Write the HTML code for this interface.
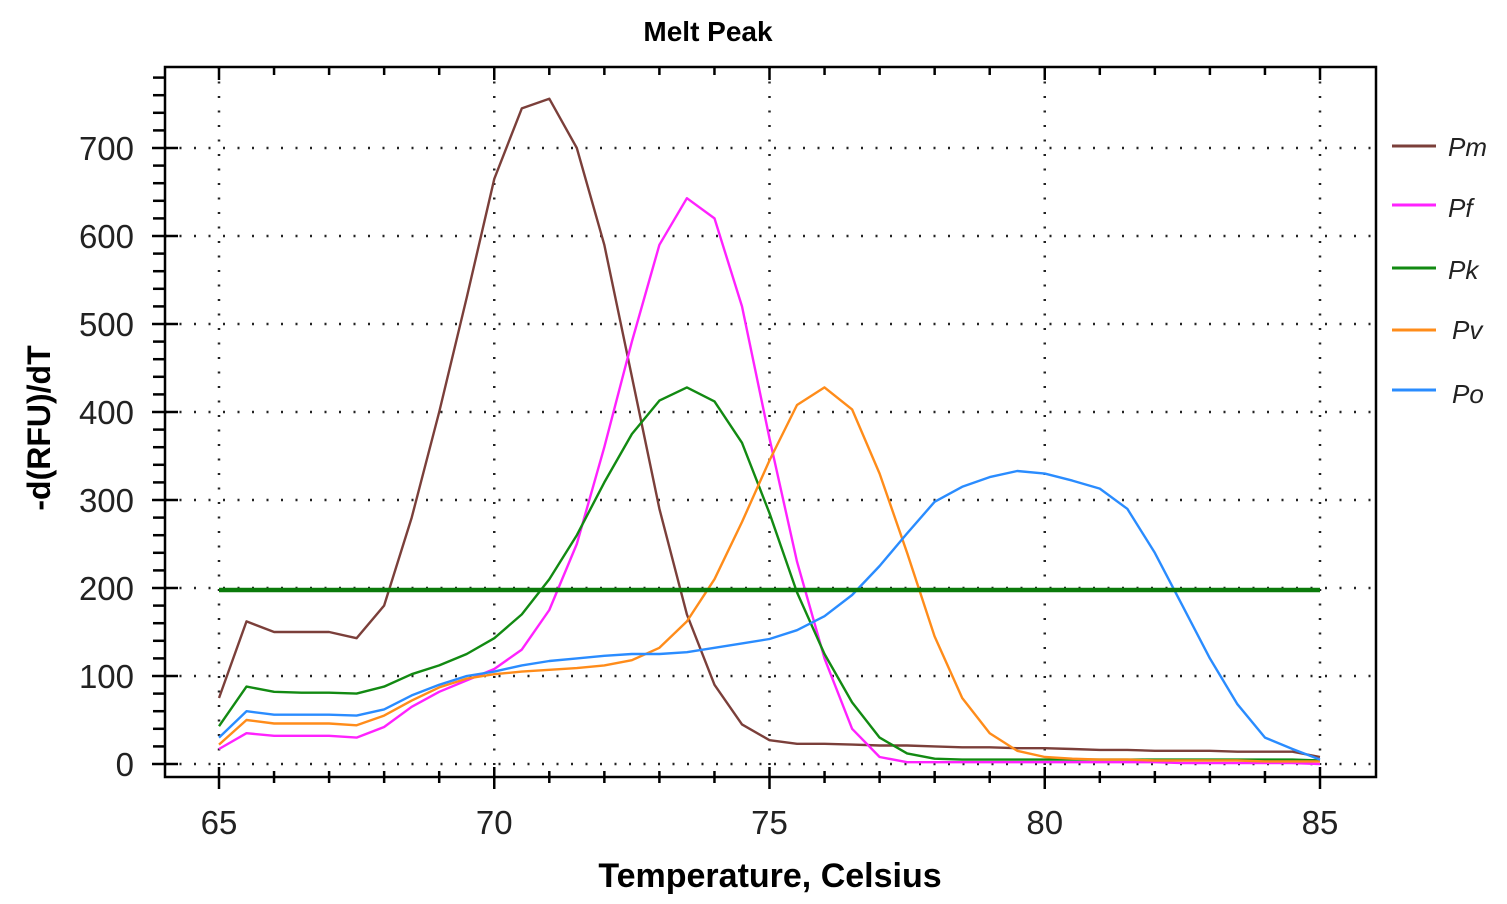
<!DOCTYPE html>
<html><head><meta charset="utf-8"><style>
html,body{margin:0;padding:0;background:#fff;}
svg{display:block;font-family:"Liberation Sans",Arial,sans-serif;}
</style></head><body>
<svg id="s" width="1507" height="904" viewBox="0 0 1507 904" xmlns="http://www.w3.org/2000/svg">
<rect width="1507" height="904" fill="#fff"/>
<text x="708" y="41" font-size="28" font-weight="bold" text-anchor="middle">Melt Peak</text>
<g id="grid"></g>
<rect x="165" y="67" width="1211" height="710" fill="none" stroke="#000" stroke-width="2.5"/>
<g id="ticks" stroke="#000" stroke-width="2.5"></g>
<g id="lab" font-size="33" fill="#222"></g>
<text x="770" y="887" font-size="34" font-weight="bold" text-anchor="middle">Temperature, Celsius</text>
<text transform="translate(50,428) rotate(-90)" font-size="32" font-weight="bold" text-anchor="middle">-d(RFU)/dT</text>
<g id="series" fill="none" stroke-width="2.4" stroke-linejoin="round"></g>
<line x1="219" y1="590" x2="1320" y2="590" stroke="#0a7a0a" stroke-width="4.5"/>
<g font-size="26" font-style="italic" fill="#222">
<line x1="1392" y1="146" x2="1436" y2="146" stroke="#7b3f3a" stroke-width="3"/><text x="1448" y="156">Pm</text>
<line x1="1392" y1="205" x2="1436" y2="205" stroke="#ff22ff" stroke-width="3"/><text x="1448" y="217">Pf</text>
<line x1="1392" y1="268" x2="1436" y2="268" stroke="#128a12" stroke-width="3"/><text x="1448" y="279">Pk</text>
<line x1="1392" y1="330" x2="1436" y2="330" stroke="#ff8c1a" stroke-width="3"/><text x="1452" y="339">Pv</text>
<line x1="1392" y1="390" x2="1436" y2="390" stroke="#2a8cff" stroke-width="3"/><text x="1452" y="403">Po</text>
</g>
</svg>
<script>
var NS="http://www.w3.org/2000/svg";
function X(t){return 219+(t-65)*55.05;}
function Y(v){return 764-0.88*v;}
function el(p,n,a,txt){var e=document.createElementNS(NS,n);for(var k in a)e.setAttribute(k,a[k]);if(txt!==undefined)e.textContent=txt;document.getElementById(p).appendChild(e);}
for(var v=0;v<=700;v+=100){el("grid","line",{x1:165,x2:1376,y1:Y(v),y2:Y(v),stroke:"#222","stroke-width":2.5,"stroke-dasharray":"2 12.5"});
 el("lab","text",{x:134,y:Y(v)+12,"text-anchor":"end"},v);}
for(var t=65;t<=85;t+=5){el("grid","line",{x1:X(t),x2:X(t),y1:67,y2:777,stroke:"#222","stroke-width":2.5,"stroke-dasharray":"2 12.5"});
 el("lab","text",{x:X(t),y:834,"text-anchor":"middle"},t);}
for(var v=0;v<=780;v+=20){var y=Y(v);if(y<68)break;var maj=v%100==0;el("ticks","line",{x1:maj?152:153,x2:maj?178:165,y1:y,y2:y});}
for(var t=64;t<=86;t+=1){var x=X(t);if(x<166||x>1375)continue;var maj=t%5==0;el("ticks","line",{x1:x,x2:x,y1:maj?767:771,y2:maj?789:783});el("ticks","line",{x1:x,x2:x,y1:67,y2:maj?80:75});}
var D={
"#7b3f3a":[75,162,150,150,150,143,180,280,400,530,665,745,756,700,590,440,290,170,90,45,27,23,23,22,21,21,20,19,19,18,18,17,16,16,15,15,15,14,14,14,8],
"#ff22ff":[17,35,32,32,32,30,42,65,82,95,108,130,175,250,360,480,590,643,620,520,370,230,120,40,8,2,2,2,2,2,2,2,2,2,2,1,1,1,1,1,0],
"#128a12":[43,88,82,81,81,80,88,102,112,125,143,170,210,260,320,375,413,428,412,365,285,195,125,70,30,12,6,5,5,5,5,5,5,5,5,5,5,5,5,5,4],
"#ff8c1a":[22,50,46,46,46,44,55,72,87,97,102,105,107,109,112,118,132,162,210,275,345,408,428,403,330,240,145,75,35,15,8,6,5,5,4,4,4,4,3,3,3],
"#2a8cff":[30,60,56,56,56,55,62,78,90,100,105,112,117,120,123,125,125,127,132,137,142,152,168,192,225,262,298,315,326,333,330,322,313,290,240,180,120,68,30,17,5]};
for(var c in D){var p=D[c].map(function(v,i){return X(65+i*0.5).toFixed(1)+","+Y(v).toFixed(1);}).join(" ");el("series","polyline",{points:p,stroke:c});}
</script>
</body></html>
